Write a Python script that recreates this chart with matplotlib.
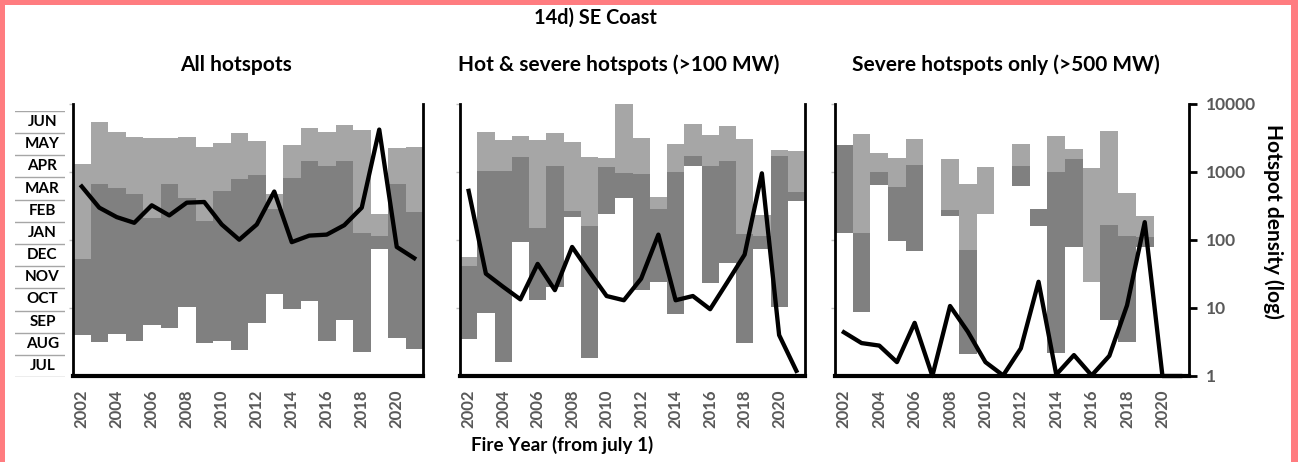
import numpy as np
import matplotlib.pyplot as plt
from matplotlib.patches import Rectangle
from matplotlib.ticker import FixedLocator, NullLocator

plt.rcParams['font.family'] = ['Lato', 'DejaVu Sans']

years = np.arange(2002, 2022)
month_names = ['JUL', 'AUG', 'SEP', 'OCT', 'NOV', 'DEC',
               'JAN', 'FEB', 'MAR', 'APR', 'MAY', 'JUN']

# season spans in months since 1 July: start, end of core (dark), end of season (light)
all_start = [1.81, 1.49, 1.87, 1.53, 2.26, 2.13, 3.06, 1.46, 1.53, 1.13,
             2.32, 3.62, 2.96, 3.31, 1.53, 2.47, 1.06, 5.59, 1.66, 1.18]
all_core_end = [5.15, 8.47, 8.29, 8.01, 6.99, 8.47, 7.87, 6.84, 8.16, 8.68,
                8.87, 7.37, 8.72, 9.50, 9.26, 9.49, 6.29, 6.19, 8.47, 7.22]
all_end = [9.35, 11.19, 10.78, 10.56, 10.49, 10.51, 10.56, 10.09, 10.26, 10.71,
           10.38, 8.03, 10.19, 10.96, 10.75, 11.07, 10.85, 7.13, 10.04, 10.12]
all_density = [612, 299, 217, 179, 324, 230, 354, 362, 169, 101,
               169, 516, 93, 116, 120, 165, 299, 4205, 79, 54]

hot_start = [1.62, 2.79, 0.63, 5.93, 3.35, 3.94, 7.00, 0.81, 7.13, 7.87,
             3.79, 4.16, 2.72, 9.26, 4.09, 5.00, 1.44, 5.62, 3.03, 7.74]
hot_core_end = [4.87, 9.06, 9.06, 9.68, 6.51, 9.26, 7.29, 6.62, 9.24, 8.97,
                8.90, 7.37, 9.01, 9.72, 9.26, 9.50, 6.26, 6.19, 9.71, 8.13]
hot_end = [5.26, 10.78, 10.41, 10.60, 10.41, 10.71, 10.31, 9.65, 9.60, 12.0,
           10.49, 7.88, 10.24, 11.10, 10.63, 11.04, 10.44, 7.10, 9.97, 9.93]
hot_density = [528, 32, 20.5, 13.4, 44.5, 18.3, 79, 34, 15, 13,
               27, 120, 13, 15, 9.6, 24, 61, 956, 4.0, 1.19]

sev_start = [6.31, 2.82, 8.42, 5.94, 5.50, 0, 7.05, 0.95, 7.13, 0,
             8.39, 6.61, 1.00, 5.67, 4.13, 2.45, 1.51, 5.70, 0, 0]
sev_core_end = [10.17, 6.31, 8.99, 8.36, 9.33, 0, 7.32, 5.54, 7.13, 0,
                9.28, 7.38, 8.99, 9.58, 4.13, 6.68, 6.19, 6.13, 0, 0]
sev_end = [10.17, 10.69, 9.85, 9.62, 10.47, 0, 9.58, 8.47, 9.24, 0,
           10.25, 7.38, 10.57, 10.03, 9.18, 10.81, 8.06, 7.08, 0, 0]
sev_density = [4.4, 3.05, 2.8, 1.6, 6.05, 1, 10.7, 4.5, 1.6, 1.02,
               2.55, 24.3, 1.05, 2.03, 1.02, 1.98, 10.96, 183, 1, 1]

panel_titles = ['All hotspots', 'Hot & severe hotspots (>100 MW)',
                'Severe hotspots only (>500 MW)']
series = [(all_start, all_core_end, all_end, all_density),
          (hot_start, hot_core_end, hot_end, hot_density),
          (sev_start, sev_core_end, sev_end, sev_density)]

W, H = 1298, 462
fig = plt.figure(figsize=(W / 100, H / 100), dpi=100)

def fx(px):
    return px / W

def fy(py):
    return 1 - py / H

panel_x = [(73, 423), (460, 805), (835, 1189)]
title_x = [236, 619, 1006]
top_px, bot_px = 104, 376
grey = '#595959'

for i, ((x0, x1), (st, ce, en, dens)) in enumerate(zip(panel_x, series)):
    st, ce, en = np.array(st), np.array(ce), np.array(en)
    ax = fig.add_axes([fx(x0), fy(bot_px), fx(x1 - x0), (bot_px - top_px) / H])
    ax.bar(years, ce - st, bottom=st, width=1.0, color='#808080', lw=0)
    ax.bar(years, en - ce, bottom=ce, width=1.0, color='#a6a6a6', lw=0)
    ax.set_xlim(2001.5, 2021.5)
    ax.set_ylim(0, 12)
    ax.set_yticks([3, 6, 9, 12])
    ax.set_yticklabels([])
    ax.tick_params(axis='y', length=3, color='#bfbfbf', width=1)
    ax.set_xticks(years[::2])
    ax.set_xticklabels([str(y) for y in years[::2]], rotation=90,
                       fontsize=12, fontweight='bold', color=grey)
    ax.tick_params(axis='x', length=0, pad=10)
    for s in ['top', 'right']:
        ax.spines[s].set_visible(False)
    ax.spines['left'].set_linewidth(2)
    ax.spines['bottom'].set_linewidth(3)

    ax2 = ax.twinx()
    ax2.set_yscale('log')
    ax2.set_ylim(1, 10000)
    ax2.plot(years, dens, color='black', lw=3.1, clip_on=False)
    for s in ['top', 'left', 'bottom']:
        ax2.spines[s].set_visible(False)
    ax2.spines['right'].set_linewidth(2)
    ax2.yaxis.set_minor_locator(NullLocator())
    if i < 2:
        ax2.tick_params(axis='y', right=False, labelright=False)
    else:
        ax2.yaxis.set_major_locator(FixedLocator([1, 10, 100, 1000, 10000]))
        ax2.set_yticklabels(['1', '10', '100', '1000', '10000'],
                            fontsize=12.5, fontweight='bold', color=grey)
        ax2.tick_params(axis='y', length=6, width=2, color='black', pad=6)

    fig.text(fx(title_x[i]), fy(65), panel_titles[i], ha='center', va='center',
             fontsize=15, fontweight='bold')

# month table on the left
tax = fig.add_axes([fx(15), fy(377), fx(50), (377 - 111) / H])
tax.set_xlim(0, 1)
tax.set_ylim(0, 12)
tax.axis('off')
for k in range(13):
    tax.axhline(k, color='#a6a6a6', lw=1)
for k, m in enumerate(month_names):
    tax.text(0.55, k + 0.5, m, ha='center', va='center',
             fontsize=11, fontweight='bold')

fig.text(fx(595), fy(18), '14d) SE Coast', ha='center', va='center',
         fontsize=14.3, fontweight='bold')
fig.text(fx(562), fy(445), 'Fire Year (from july 1)', ha='center', va='center',
         fontsize=13.6, fontweight='bold')
fig.text(fx(1273), fy(221), 'Hotspot density (log)', ha='center', va='center',
         rotation=270, fontsize=15, fontweight='bold')

# pink frame
pink = '#ff7c80'
fig.add_artist(Rectangle((0, fy(5)), 1, 5 / H, transform=fig.transFigure, color=pink, lw=0))
fig.add_artist(Rectangle((0, 0), fx(5), 1, transform=fig.transFigure, color=pink, lw=0))
fig.add_artist(Rectangle((fx(1291), 0), fx(7), 1, transform=fig.transFigure, color=pink, lw=0))

fig.savefig('out.png', dpi=100)
